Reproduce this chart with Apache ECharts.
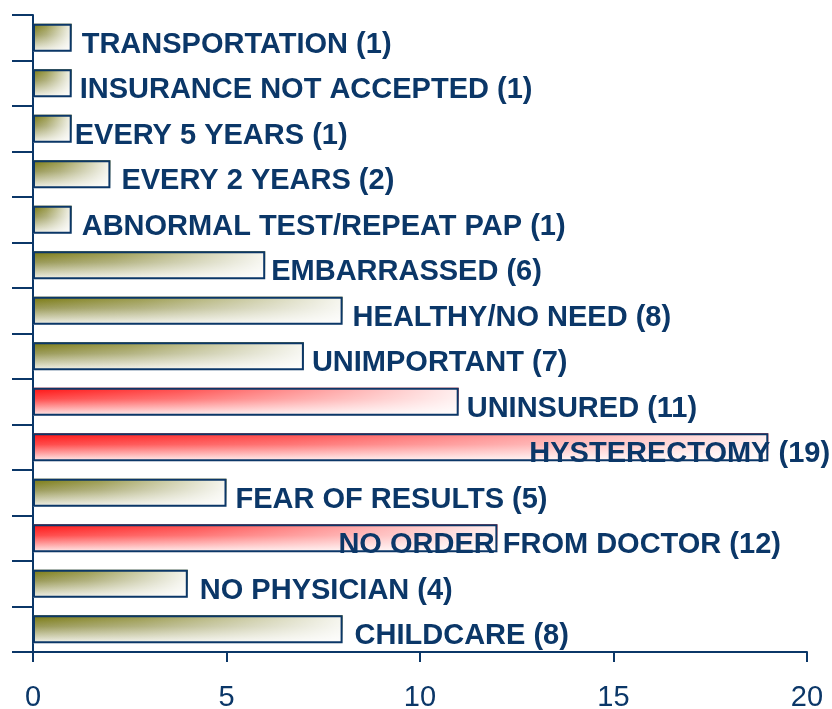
<!DOCTYPE html>
<html lang="en">
<head>
    <meta charset="UTF-8">
    <title>Reasons for no Pap test</title>
    <script src="https://cdn.jsdelivr.net/npm/echarts@6/dist/echarts.min.js"></script>
    <style>
        html, body { margin: 0; padding: 0; background: #fff; }
    </style>
</head>
<body>
    <div id="app" style="width:832px;height:709px;"></div>
    <script>
        // bottom to top, as on the category axis
        var categories = ['CHILDCARE', 'NO PHYSICIAN', 'NO ORDER FROM DOCTOR', 'FEAR OF RESULTS',
            'HYSTERECTOMY', 'UNINSURED', 'UNIMPORTANT', 'HEALTHY/NO NEED', 'EMBARRASSED',
            'ABNORMAL TEST/REPEAT PAP', 'EVERY 2 YEARS', 'EVERY 5 YEARS', 'INSURANCE NOT ACCEPTED',
            'TRANSPORTATION'];
        var counts = [8, 4, 12, 5, 19, 11, 7, 8, 6, 1, 2, 1, 1, 1];
        var redCategories = ['NO ORDER FROM DOCTOR', 'HYSTERECTOMY', 'UNINSURED'];
        var xTicks = [0, 5, 10, 15, 20];

        // label nudges (px) so the text lands where it does in the original
        var labelShift = {
            'CHILDCARE': 12, 'NO PHYSICIAN': 12, 'NO ORDER FROM DOCTOR': -159, 'FEAR OF RESULTS': 9,
            'HYSTERECTOMY': -239, 'UNINSURED': 8, 'UNIMPORTANT': 8, 'HEALTHY/NO NEED': 10,
            'EMBARRASSED': 6, 'ABNORMAL TEST/REPEAT PAP': 10, 'EVERY 2 YEARS': 11,
            'EVERY 5 YEARS': 3, 'INSURANCE NOT ACCEPTED': 8, 'TRANSPORTATION': 10
        };

        var navy = '#0b3768';

        var myChart = echarts.init(document.getElementById('app'));

        /*
         * base layer: colour fades top -> bottom
         */
        var baseData = [];
        for (var i = 0; i < counts.length; i++) {
            var isRed = redCategories.indexOf(categories[i]) >= 0;
            var stops = isRed ? [
                {offset: 0, color: '#ff1010'},
                {offset: 0.4, color: '#ff4a4a'},
                {offset: 1, color: '#fff0f0'}
            ] : [
                {offset: 0, color: '#78780c'},
                {offset: 0.4, color: '#9a9a58'},
                {offset: 1, color: '#f4f4ee'}
            ];
            baseData.push({
                value: counts[i],
                itemStyle: {color: new echarts.graphic.LinearGradient(0, 0, 0, 1, stops)}
            });
        }

        /*
         * top layer: white wash left -> right, carries border and label
         */
        var topData = [];
        for (var i = 0; i < counts.length; i++) {
            topData.push({
                value: counts[i],
                label: {offset: [labelShift[categories[i]], 7]}
            });
        }

        var option = {
            animation: false,
            backgroundColor: '#fff',
            grid: {
                left: 33,
                right: 25,
                top: 15,
                bottom: 57,
                containLabel: false,
                outerBoundsMode: 'none'
            },
            xAxis: {
                type: 'value',
                min: xTicks[0],
                max: xTicks[xTicks.length - 1],
                interval: 5,
                splitLine: {show: false},
                axisLine: {show: true, lineStyle: {color: navy, width: 2}},
                axisTick: {show: true, length: 10, lineStyle: {color: navy, width: 2}},
                axisLabel: {
                    color: navy,
                    fontSize: 29,
                    fontFamily: 'Liberation Sans',
                    margin: 31
                }
            },
            yAxis: {
                type: 'category',
                data: categories,
                boundaryGap: true,
                axisLine: {show: true, lineStyle: {color: navy, width: 2}},
                axisTick: {show: true, length: 21, lineStyle: {color: navy, width: 2}},
                axisLabel: {show: false},
                splitLine: {show: false}
            },
            series: [{
                name: 'base',
                type: 'bar',
                data: baseData,
                barWidth: 28,
                barGap: '-100%',
                silent: true
            }, {
                name: 'count',
                type: 'bar',
                data: topData,
                barWidth: 28,
                barGap: '-100%',
                itemStyle: {
                    color: new echarts.graphic.LinearGradient(0, 0, 1, 0, [
                        {offset: 0, color: 'rgba(255,255,255,0)'},
                        {offset: 0.35, color: 'rgba(255,255,255,0.25)'},
                        {offset: 1, color: 'rgba(255,255,255,0.93)'}
                    ]),
                    borderColor: navy,
                    borderWidth: 2
                },
                label: {
                    show: true,
                    position: 'right',
                    distance: 0,
                    color: navy,
                    fontSize: 29,
                    fontWeight: 'bold',
                    fontFamily: 'Liberation Sans',
                    formatter: function (p) {
                        return p.name + ' (' + p.value + ')';
                    }
                }
            }]
        };
        myChart.setOption(option);
    </script>
</body>
</html>
